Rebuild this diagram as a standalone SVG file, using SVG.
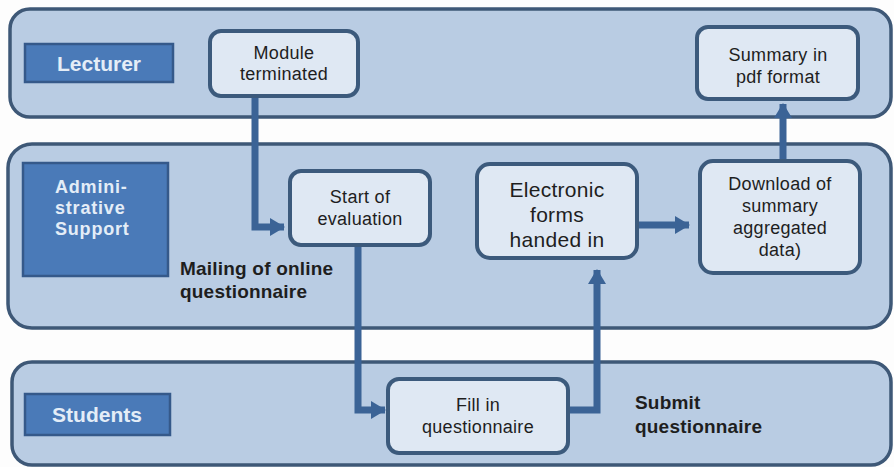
<svg xmlns="http://www.w3.org/2000/svg" width="894" height="467" viewBox="0 0 894 467">
<defs>
<style>
.lane{fill:#b9cce3;stroke:#3e5877;stroke-width:3.5}
.lbl{fill:#4a7ab8;stroke:#35598a;stroke-width:2.5}
.lt{font-family:"Liberation Sans",Arial,sans-serif;font-weight:bold;fill:#e4edf7}
.node{fill:#dfe8f3;stroke:#3c5a7c;stroke-width:4}
.nt{font-family:"Liberation Sans",Arial,sans-serif;fill:#1e1e1e;text-anchor:middle;letter-spacing:0.3px}
.bt{font-family:"Liberation Sans",Arial,sans-serif;font-weight:bold;fill:#1e1e1e;letter-spacing:0.2px}
.conn{fill:none;stroke:#3b6396;stroke-width:7}
</style>
<marker id="ah" markerUnits="userSpaceOnUse" markerWidth="16" markerHeight="18" refX="14" refY="9" orient="auto">
<path d="M0,0 L15,9 L0,18 Z" fill="#3b6396"/>
</marker>
</defs>
<rect width="894" height="467" fill="#fdfdfd"/>
<g id="lane-lecturer">
<rect class="lane" x="10" y="9" width="881" height="108" rx="20"/>
<rect class="lbl" x="25" y="44" width="148" height="38"/>
<text class="lt" x="99" y="71" font-size="21" text-anchor="middle">Lecturer</text>
</g>
<g id="lane-admin">
<rect class="lane" x="8" y="144" width="883" height="184" rx="24"/>
<rect class="lbl" x="23" y="163" width="145" height="113"/>
<text class="lt" font-size="18" letter-spacing="0.8"><tspan x="55" y="193">Admini-</tspan><tspan x="55" y="214">strative</tspan><tspan x="55" y="235">Support</tspan></text>
</g>
<g id="lane-students">
<rect class="lane" x="12" y="362" width="879" height="103" rx="20"/>
<rect class="lbl" x="25" y="394" width="145" height="41"/>
<text class="lt" x="97" y="422" font-size="21" text-anchor="middle">Students</text>
</g>
<g id="connectors">
<path class="conn" d="M255,97 V227 H284" marker-end="url(#ah)"/>
<path class="conn" d="M358,245 V410 H385" marker-end="url(#ah)"/>
<path class="conn" d="M568,410 H597 V270" marker-end="url(#ah)"/>
<path class="conn" d="M637,225 H689" marker-end="url(#ah)"/>
<path class="conn" d="M783,160 V104" marker-end="url(#ah)"/>
</g>
<g id="node-module">
<rect class="node" x="210" y="31" width="148" height="65" rx="11"/>
<text class="nt" font-size="18"><tspan x="284" y="59">Module</tspan><tspan x="284" y="80">terminated</tspan></text>
</g>
<g id="node-summary">
<rect class="node" x="697" y="27" width="161" height="72" rx="11"/>
<text class="nt" font-size="18"><tspan x="778" y="61">Summary in</tspan><tspan x="778" y="83">pdf format</tspan></text>
</g>
<g id="node-start">
<rect class="node" x="290" y="171" width="140" height="74" rx="11"/>
<text class="nt" font-size="18"><tspan x="360" y="203">Start of</tspan><tspan x="360" y="225">evaluation</tspan></text>
</g>
<g id="node-electronic">
<rect class="node" x="477" y="164" width="160" height="94" rx="13"/>
<text class="nt" font-size="21"><tspan x="557" y="197">Electronic</tspan><tspan x="557" y="222">forms</tspan><tspan x="557" y="247">handed in</tspan></text>
</g>
<g id="node-download">
<rect class="node" x="700" y="161" width="160" height="112" rx="13"/>
<text class="nt" font-size="18"><tspan x="780" y="190">Download of</tspan><tspan x="780" y="212">summary</tspan><tspan x="780" y="234">aggregated</tspan><tspan x="780" y="256">data)</tspan></text>
</g>
<g id="node-fill">
<rect class="node" x="388" y="379" width="180" height="74" rx="11"/>
<text class="nt" font-size="18"><tspan x="478" y="411">Fill in</tspan><tspan x="478" y="433">questionnaire</tspan></text>
</g>
<g id="labels">
<text class="bt" font-size="19"><tspan x="180" y="275">Mailing of online</tspan><tspan x="180" y="298">questionnaire</tspan></text>
<text class="bt" font-size="19"><tspan x="635" y="409">Submit</tspan><tspan x="635" y="433">questionnaire</tspan></text>
</g>
</svg>
